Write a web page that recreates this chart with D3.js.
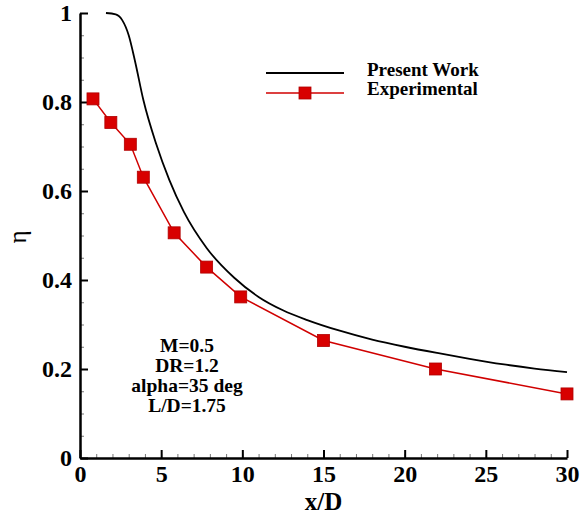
<!DOCTYPE html>
<html>
<head>
<meta charset="utf-8">
<script src="https://cdn.jsdelivr.net/npm/d3@7"></script>
<style>
  body { margin: 0; background: #fff; }
  svg { display: block; }
  text { font-family: "Liberation Serif", "Times New Roman", serif; }
</style>
</head>
<body>
<div id="chart"></div>
<script>
// data
var presentX = [1.6, 2.2, 2.6, 3.0, 3.4, 3.9, 4.7, 5.5, 6.4, 7.8, 9.5, 11.0, 12.5, 14.0, 16.0, 18.0, 20.0, 22.0, 24.0, 26.0, 28.0, 30.0];
var presentY = [1.0, 0.997, 0.984, 0.950, 0.890, 0.805, 0.705, 0.625, 0.553, 0.472, 0.405, 0.362, 0.332, 0.310, 0.286, 0.266, 0.250, 0.236, 0.223, 0.211, 0.201, 0.193];
var expX = [0.8, 1.9, 3.1, 3.9, 5.8, 7.8, 9.9, 15.0, 21.9, 30.0];
var expY = [0.807, 0.754, 0.705, 0.631, 0.506, 0.429, 0.362, 0.264, 0.2, 0.144];
var notes = ["M=0.5", "DR=1.2", "alpha=35 deg", "L/D=1.75"];
var legendNames = ["Present Work", "Experimental"];

var width = 588, height = 515;
var svg = d3.select("#chart").append("svg")
    .attr("width", width)
    .attr("height", height);

var x = d3.scaleLinear().domain([0, 30]).range([80, 567]);
var y = d3.scaleLinear().domain([0, 1]).range([458, 13]);

// minor ticks first so the axis line sits on top
svg.append("g")
    .attr("class", "minor")
    .attr("transform", "translate(0," + y(0) + ")")
    .call(d3.axisBottom(x).tickValues(d3.range(0, 31, 1)).tickSize(-4).tickFormat(""))
    .call(function(g) { g.select(".domain").remove(); })
    .selectAll("line").attr("stroke", "#777").attr("stroke-width", 1);

svg.append("g")
    .attr("class", "minor")
    .attr("transform", "translate(" + x(0) + ",0)")
    .call(d3.axisLeft(y).tickValues(d3.range(0, 1.001, 0.05)).tickSize(-4).tickFormat(""))
    .call(function(g) { g.select(".domain").remove(); })
    .selectAll("line").attr("stroke", "#777").attr("stroke-width", 1);

// major axes
var xAxis = svg.append("g")
    .attr("transform", "translate(0," + y(0) + ")")
    .call(d3.axisBottom(x).tickValues([0, 5, 10, 15, 20, 25, 30]).tickSizeInner(-8).tickSizeOuter(0).tickPadding(7).tickFormat(d3.format("d")));

var yAxis = svg.append("g")
    .attr("transform", "translate(" + x(0) + ",0)")
    .call(d3.axisLeft(y).tickValues([0, 0.2, 0.4, 0.6, 0.8, 1]).tickSizeInner(-8).tickSizeOuter(0).tickPadding(8)
        .tickFormat(function(d) { return d === 0 || d === 1 ? d3.format("d")(d) : d3.format(".1f")(d); }));

[xAxis, yAxis].forEach(function(a) {
    a.select(".domain").attr("stroke", "#000").attr("stroke-width", 2.5);
    a.selectAll(".tick line").attr("stroke", "#000").attr("stroke-width", 2);
    a.selectAll(".tick text")
        .attr("fill", "#000")
        .style("font-family", "'Liberation Serif', serif")
        .style("font-weight", "bold")
        .style("font-size", "24px");
});

// axis titles
svg.append("text")
    .attr("x", x(15))
    .attr("y", 510)
    .attr("text-anchor", "middle")
    .style("font-weight", "bold")
    .style("font-size", "25px")
    .text("x/D");

svg.append("text")
    .attr("transform", "translate(26,237) rotate(-90)")
    .attr("text-anchor", "middle")
    .style("font-size", "25px")
    .text("η");

// present work curve
var present = presentX.map(function(d, i) { return [d, presentY[i]]; });
var line = d3.line()
    .x(function(d) { return x(d[0]); })
    .y(function(d) { return y(d[1]); })
    .curve(d3.curveMonotoneX);

svg.append("path")
    .datum(present)
    .attr("fill", "none")
    .attr("stroke", "#000")
    .attr("stroke-width", 1.8)
    .attr("d", line);

// experimental
var exp = expX.map(function(d, i) { return [d, expY[i]]; });
svg.append("path")
    .datum(exp)
    .attr("fill", "none")
    .attr("stroke", "#d00000")
    .attr("stroke-width", 1.5)
    .attr("d", d3.line().x(function(d) { return x(d[0]); }).y(function(d) { return y(d[1]); }));

var sq = 12;
svg.selectAll(".dot")
    .data(exp)
    .enter().append("rect")
    .attr("class", "dot")
    .attr("x", function(d) { return x(d[0]) - sq / 2; })
    .attr("y", function(d) { return y(d[1]) - sq / 2; })
    .attr("width", sq)
    .attr("height", sq)
    .attr("fill", "#d80000")
    .attr("stroke", "#b00000")
    .attr("stroke-width", 0.8);

// legend
var lg = svg.append("g");
lg.append("line").attr("x1", 266).attr("x2", 344).attr("y1", 73).attr("y2", 73)
    .attr("stroke", "#000").attr("stroke-width", 1.8);
lg.append("line").attr("x1", 266).attr("x2", 344).attr("y1", 93).attr("y2", 93)
    .attr("stroke", "#d00000").attr("stroke-width", 1.5);
lg.append("rect").attr("x", 305 - sq / 2).attr("y", 93 - sq / 2).attr("width", sq).attr("height", sq)
    .attr("fill", "#d80000").attr("stroke", "#b00000").attr("stroke-width", 0.8);
lg.selectAll(".lgtext")
    .data(legendNames)
    .enter().append("text")
    .attr("class", "lgtext")
    .attr("x", 367)
    .attr("y", function(d, i) { return 76 + i * 19; })
    .style("font-weight", "bold")
    .style("font-size", "19px")
    .text(function(d) { return d; });

// run conditions
svg.selectAll(".note")
    .data(notes)
    .enter().append("text")
    .attr("class", "note")
    .attr("x", 187)
    .attr("y", function(d, i) { return 352 + i * 20; })
    .attr("text-anchor", "middle")
    .style("font-weight", "bold")
    .style("font-size", "19.5px")
    .text(function(d) { return d; });
</script>
</body>
</html>
